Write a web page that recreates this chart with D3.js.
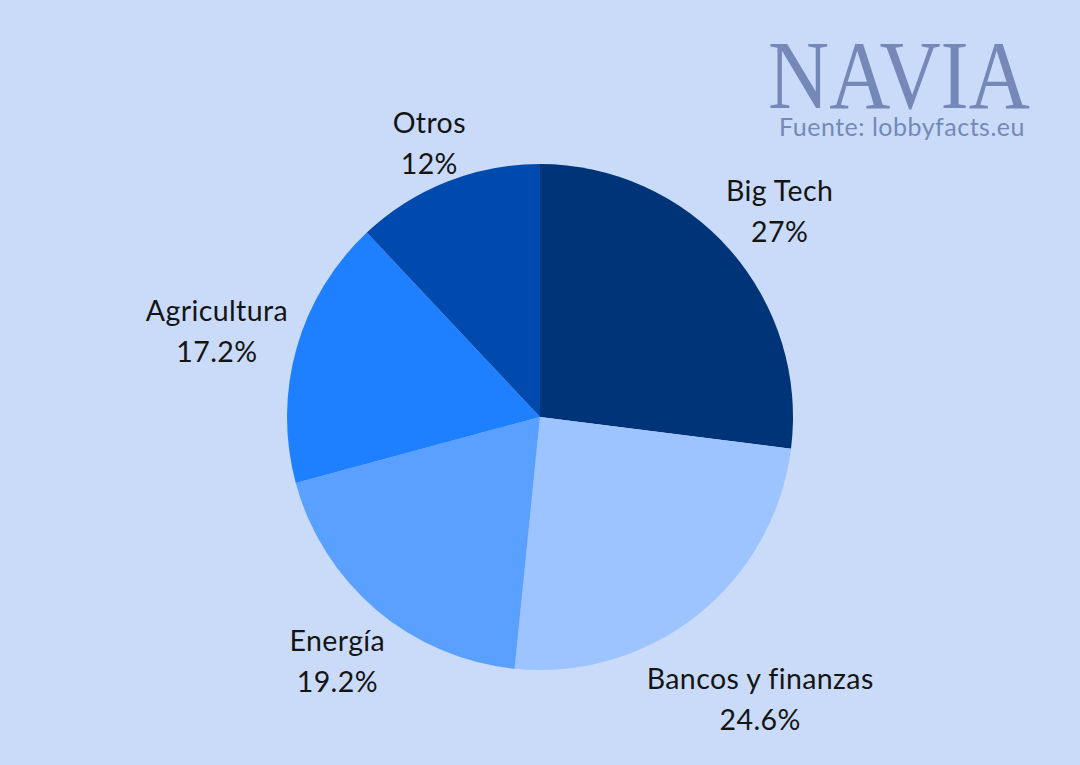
<!DOCTYPE html>
<html>
<head>
<meta charset="utf-8">
<script src="https://cdn.jsdelivr.net/npm/d3@7.9.0/dist/d3.min.js"></script>
<style>
  html, body { margin: 0; padding: 0; background: #cadbfa; }
  svg { display: block; }
</style>
</head>
<body>
<div id="chart"></div>
<script>
// ---------- DATA ----------
const sectors = ['Big Tech', 'Bancos y finanzas', 'Energía', 'Agricultura', 'Otros'];
const shares = [27, 24.6, 19.2, 17.2, 12];
const shareLabels = ['27%', '24.6%', '19.2%', '17.2%', '12%'];
const sliceColors = ['#003478', '#9dc4ff', '#5aa0ff', '#1f80ff', '#004aad'];

// ---------- LAYOUT ----------
const width = 1080;
const height = 765;
const cx = 540, cy = 417, radius = 253;
const fontSize = 28.5;
const lineGap = 41;
const capH = 20;

const svg = d3.select('#chart')
  .append('svg')
  .attr('width', width)
  .attr('height', height);

svg.append('rect')
  .attr('width', width)
  .attr('height', height)
  .attr('fill', '#cadbfa');

const rows = sectors.map((name, i) => ({ name, value: shares[i], label: shareLabels[i], color: sliceColors[i] }));

const pie = d3.pie().sort(null).value((d) => d.value);
const arc = d3.arc().innerRadius(0).outerRadius(radius);
const arcs = pie(rows);

const g = svg.append('g').attr('transform', `translate(${cx},${cy})`);

g.selectAll('path')
  .data(arcs)
  .join('path')
  .attr('d', arc)
  .attr('fill', (d) => d.data.color);

// ---------- LABELS ----------
// label block sits on the slice's mid angle, pushed out until its box clears the circle
const labels = g.append('g')
  .attr('font-family', 'Lato, "Open Sans", sans-serif')
  .attr('font-size', fontSize)
  .attr('letter-spacing', 0.4)
  .attr('fill', '#141414')
  .attr('text-anchor', 'middle');

arcs.forEach((a) => {
  const mid = (a.startAngle + a.endAngle) / 2;
  const vx = Math.sin(mid);
  const vy = -Math.cos(mid);

  const block = labels.append('g');
  const t1 = block.append('text').attr('y', 0).text(a.data.name);
  const t2 = block.append('text').attr('y', lineGap).text(a.data.label);

  const w = Math.max(t1.node().getComputedTextLength(), t2.node().getComputedTextLength());
  const h = lineGap + capH;
  const ext = Math.abs(vx) * w / 2 + Math.abs(vy) * h / 2;
  const r = radius + ext + 6;

  const bx = vx * r;
  const by = vy * r - h / 2 + capH + 6; // first baseline
  block.attr('transform', `translate(${bx},${by})`);
});

// ---------- LOGO / SOURCE ----------
svg.append('text')
  .attr('x', 768)
  .attr('y', 108)
  .attr('font-family', '"Liberation Serif", "DejaVu Serif", serif')
  .attr('font-size', 98)
  .attr('fill', '#7489b8')
  .attr('textLength', 262)
  .attr('lengthAdjust', 'spacingAndGlyphs')
  .text('NAVIA');

svg.append('text')
  .attr('x', 1025)
  .attr('y', 136)
  .attr('text-anchor', 'end')
  .attr('font-family', 'Lato, "Open Sans", sans-serif')
  .attr('font-size', 25)
  .attr('letter-spacing', 0.5)
  .attr('fill', '#7489b8')
  .text('Fuente: lobbyfacts.eu');
</script>
</body>
</html>
